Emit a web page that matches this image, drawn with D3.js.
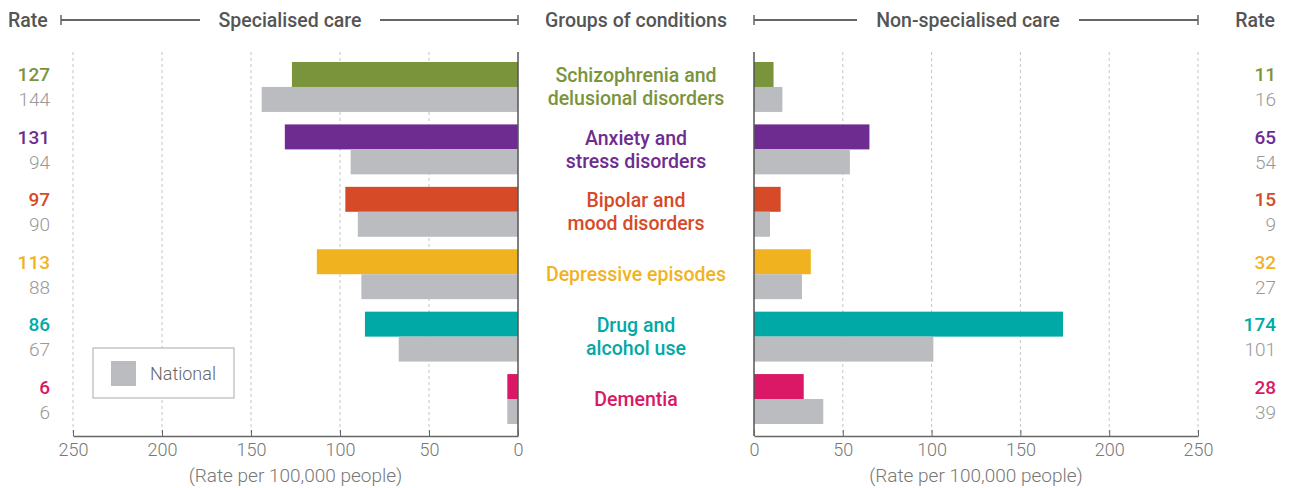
<!DOCTYPE html>
<html lang="en">
<head>
<meta charset="utf-8">
<title>Groups of conditions</title>
<script src="https://d3js.org/d3.v7.min.js"></script>
<style>
  body { margin: 0; background: #fff; }
  svg text { font-family: Roboto, "Liberation Sans", sans-serif; }
  .grid line { stroke: #c4c4c4; stroke-dasharray: 3,3; }
  .axis path, .axis line { stroke: #666; }
  .axis text { font-size: 18px; fill: #777; font-weight: 300; }
</style>
</head>
<body>
<div id="chart"></div>
<script>
// data
var groups = [
  ["Schizophrenia and", "delusional disorders"],
  ["Anxiety and", "stress disorders"],
  ["Bipolar and", "mood disorders"],
  ["Depressive episodes"],
  ["Drug and", "alcohol use"],
  ["Dementia"]
];
var colours = ["#7a943c", "#6e2c91", "#d64a27", "#f0b31f", "#00a9a6", "#da1865"];
var specLocal = [127, 131, 97, 113, 86, 6];
var specNational = [144, 94, 90, 88, 67, 6];
var nonSpecLocal = [11, 65, 15, 32, 174, 28];
var nonSpecNational = [16, 54, 9, 27, 101, 39];
var ticks = [0, 50, 100, 150, 200, 250];

var width = 1290, height = 488;
var grey = "#bbbcbf";

var svg = d3.select("#chart").append("svg")
    .attr("width", width)
    .attr("height", height);

var xLeft = d3.scaleLinear().domain([0, 250]).range([518, 73]);
var xRight = d3.scaleLinear().domain([0, 250]).range([754, 1198]);
var y = d3.scaleBand().domain(d3.range(groups.length)).range([62, 424]).paddingInner(0.2).paddingOuter(0);
var plotTop = 52, axisY = 436;

function panel(x, local, national, side) {
  var g = svg.append("g");
  // grid
  g.append("g").attr("class", "grid")
    .selectAll("line").data(ticks.filter(function(t) { return t > 0; }))
    .enter().append("line")
      .attr("x1", x).attr("x2", x)
      .attr("y1", plotTop).attr("y2", axisY);

  var bh = y.bandwidth() / 2;
  g.selectAll(".loc").data(local).enter().append("rect")
    .attr("x", function(d) { return Math.min(x(0), x(d)); })
    .attr("width", function(d) { return Math.abs(x(d) - x(0)); })
    .attr("y", function(d, i) { return y(i); })
    .attr("height", bh)
    .attr("fill", function(d, i) { return colours[i]; });
  g.selectAll(".nat").data(national).enter().append("rect")
    .attr("x", function(d) { return Math.min(x(0), x(d)); })
    .attr("width", function(d) { return Math.abs(x(d) - x(0)); })
    .attr("y", function(d, i) { return y(i) + bh; })
    .attr("height", bh)
    .attr("fill", grey);

  // zero line
  g.append("line")
    .attr("x1", x(0)).attr("x2", x(0))
    .attr("y1", plotTop).attr("y2", axisY)
    .attr("stroke", "#555").attr("stroke-width", 1.5);

  var axis = g.append("g").attr("class", "axis")
    .attr("transform", "translate(0," + axisY + ")")
    .call(d3.axisBottom(x).tickValues(ticks).tickSize(-6).tickSizeOuter(0).tickPadding(7));
  axis.select(".domain").attr("stroke-width", 1.5);
  axis.selectAll(".tick line").attr("stroke", "#666");

  g.append("text")
    .attr("x", (x(0) + x(250)) / 2).attr("y", 482)
    .attr("text-anchor", "middle")
    .attr("font-size", 19).attr("font-weight", 300).attr("fill", "#777")
    .text("(Rate per 100,000 people)");

  // rates
  var rx = side === "left" ? 50 : 1276;
  g.selectAll(".rl").data(local).enter().append("text")
    .attr("x", rx).attr("y", function(d, i) { return y(i) + bh / 2 + 7; })
    .attr("text-anchor", "end")
    .attr("font-size", 19).attr("font-weight", 500)
    .attr("fill", function(d, i) { return colours[i]; })
    .text(function(d) { return d; });
  g.selectAll(".rn").data(national).enter().append("text")
    .attr("x", rx).attr("y", function(d, i) { return y(i) + bh * 1.5 + 7; })
    .attr("text-anchor", "end")
    .attr("font-size", 19).attr("font-weight", 300)
    .attr("fill", "#999")
    .text(function(d) { return d; });
}

panel(xLeft, specLocal, specNational, "left");
panel(xRight, nonSpecLocal, nonSpecNational, "right");

// category labels
var cats = svg.append("g");
groups.forEach(function(lines, i) {
  var cy = y(i) + y.bandwidth() / 2;
  var t = cats.append("text")
    .attr("text-anchor", "middle")
    .attr("font-size", 19.5).attr("font-weight", 500)
    .attr("fill", colours[i]);
  lines.forEach(function(l, j) {
    t.append("tspan")
      .attr("x", 636)
      .attr("y", cy + 7 + (j - (lines.length - 1) / 2) * 23)
      .text(l);
  });
});

// header
var hdr = svg.append("g").attr("font-size", 19.5).attr("font-weight", 500).attr("fill", "#555");
function bracket(x1, x2, label, lx1, lx2) {
  hdr.append("text").attr("x", (lx1 + lx2) / 2).attr("y", 27).attr("text-anchor", "middle").text(label);
  [[x1, lx1 - 16], [lx2 + 16, x2]].forEach(function(s) {
    hdr.append("line").attr("x1", s[0]).attr("x2", s[1]).attr("y1", 20).attr("y2", 20)
      .attr("stroke", "#666").attr("stroke-width", 2);
  });
  [x1, x2].forEach(function(xx) {
    hdr.append("line").attr("x1", xx).attr("x2", xx).attr("y1", 15).attr("y2", 25)
      .attr("stroke", "#666").attr("stroke-width", 1.5);
  });
}
hdr.append("text").attr("x", 8).attr("y", 27).text("Rate");
hdr.append("text").attr("x", 1275).attr("y", 27).attr("text-anchor", "end").text("Rate");
hdr.append("text").attr("x", 636).attr("y", 27).attr("text-anchor", "middle").text("Groups of conditions");
bracket(61, 518, "Specialised care", 216, 364);
bracket(754, 1198, "Non-specialised care", 873, 1063);

// legend
var leg = svg.append("g");
leg.append("rect").attr("x", 93).attr("y", 348).attr("width", 141).attr("height", 50)
  .attr("fill", "#fff").attr("stroke", "#aaa");
leg.append("rect").attr("x", 111).attr("y", 361).attr("width", 25).attr("height", 25).attr("fill", grey);
leg.append("text").attr("x", 150).attr("y", 380).attr("font-size", 18).attr("font-weight", 300)
  .attr("fill", "#666").text("National");
</script>
</body>
</html>
